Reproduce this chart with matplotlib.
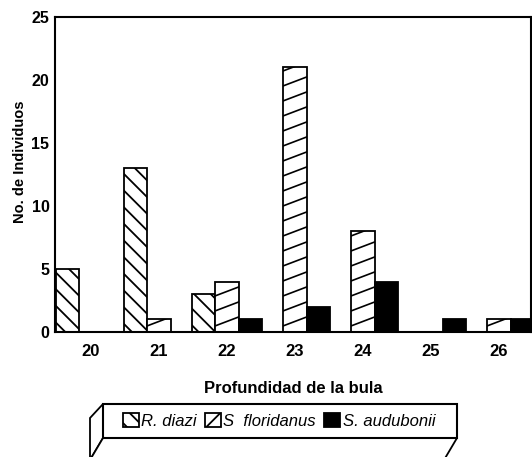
import matplotlib.pyplot as plt
import numpy as np
from matplotlib.patches import Patch, Polygon

# Profundidad de la bula (categorias) y numero de individuos por especie
depth = [20, 21, 22, 23, 24, 25, 26]
r_diazi = [5, 13, 3, 0, 0, 0, 0]
s_floridanus = [0, 1, 4, 21, 8, 0, 1]
s_audubonii = [0, 0, 1, 2, 4, 1, 1]
species = ["R. diazi", "S  floridanus", "S. audubonii"]

plt.rcParams['font.family'] = ['Liberation Sans', 'DejaVu Sans']
plt.rcParams['hatch.linewidth'] = 1.3

fig = plt.figure(figsize=(5.32, 4.57), dpi=100)
ax = fig.add_axes([55 / 532, 125 / 457, 476 / 532, 315 / 457])

x = np.array(depth, dtype=float)
w = 0.34

b1 = ax.bar(x - w, r_diazi, w, facecolor='white', edgecolor='black',
            hatch='\\\\', linewidth=1.3)
b2 = ax.bar(x, s_floridanus, w, facecolor='white', edgecolor='black',
            linewidth=1.3)
b3 = ax.bar(x + w, s_audubonii, w, facecolor='black', edgecolor='black',
            linewidth=1.3)

ax.set_xlim(19.47, 26.47)
ax.set_ylim(0, 25)

# shallow diagonal hatching for S. floridanus, clipped to each bar
p0 = ax.transData.transform((0, 0))
p1 = ax.transData.transform((1, 1))
ppx = p1[0] - p0[0]
ppy = p1[1] - p0[1]
slope = 0.38
step = 15.0 / ppy
for rect in b2.patches:
    h = rect.get_height()
    if h <= 0:
        continue
    x0 = rect.get_x()
    x1 = x0 + rect.get_width()
    rise = slope * (x1 - x0) * ppx / ppy
    for y in np.arange(-rise, h + step, step):
        ln, = ax.plot([x0, x1], [y, y + rise], color='black', lw=1.2)
        ln.set_clip_path(rect)

ax.set_xticks(depth)
ax.set_xticklabels([str(d) for d in depth], fontsize=12, fontweight='bold')
ax.set_yticks([0, 5, 10, 15, 20, 25])
ax.set_yticklabels(['0', '5', '10', '15', '20', '25'], fontsize=11.5,
                   fontweight='bold')
ax.tick_params(axis='x', length=0, pad=9)
ax.tick_params(axis='y', length=0, pad=4)
for s in ax.spines.values():
    s.set_linewidth(1.5)

ax.set_xlabel("Profundidad de la bula", fontsize=12, fontweight='bold')
ax.xaxis.set_label_coords(0.5, -0.155)
ax.set_ylabel("No. de Individuos", fontsize=10.5, fontweight='bold')
ax.yaxis.set_label_coords(-0.058, 0.54)

# 3D-looking legend box
W, H = 532.0, 457.0
def fpt(px, py):
    return (px / W, 1 - py / H)

front = Polygon([fpt(103, 404), fpt(457, 404), fpt(457, 438), fpt(103, 438)],
                closed=True, facecolor='white', edgecolor='black', lw=1.5,
                transform=fig.transFigure)
side = Polygon([fpt(103, 404), fpt(90, 418), fpt(90, 460), fpt(103, 438)],
               closed=True, facecolor='white', edgecolor='black', lw=1.3,
               transform=fig.transFigure, clip_on=False)
bottom = Polygon([fpt(103, 438), fpt(457, 438), fpt(444, 460), fpt(90, 460)],
                 closed=True, facecolor='white', edgecolor='black', lw=1.3,
                 transform=fig.transFigure, clip_on=False)
fig.patches.extend([side, bottom, front])

handles = [Patch(facecolor='white', edgecolor='black', hatch='\\\\', lw=1.3),
           Patch(facecolor='white', edgecolor='black', hatch='//', lw=1.3),
           Patch(facecolor='black', edgecolor='black', lw=1.3)]
leg = fig.legend(handles, species, loc='center', bbox_to_anchor=fpt(279, 421),
                 ncol=3, frameon=False, handlelength=0.95, handleheight=0.95,
                 handletextpad=0.15, columnspacing=0.5,
                 prop={'style': 'italic', 'size': 12})

fig.savefig("out.png", dpi=100)
